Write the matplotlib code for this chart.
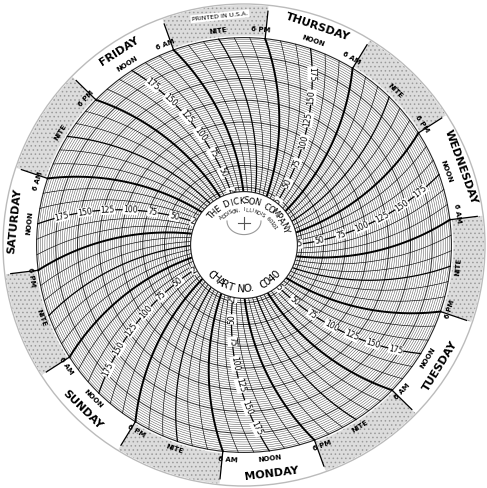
import numpy as np
import matplotlib
matplotlib.use("Agg")
import matplotlib.pyplot as plt
from matplotlib.patches import Circle, Wedge

# chart data
days = ["MONDAY", "TUESDAY", "WEDNESDAY", "THURSDAY", "FRIDAY", "SATURDAY", "SUNDAY"]
time_marks = [6, 12, 18, 24]
time_names = ["6 AM", "NOON", "6 PM", "NITE"]
value_labels = [25, 50, 75, 100, 125, 150, 175]
v_min, v_max = 20, 197

# geometry (pixels)
cx, cy = 244, 245
R_edge = 241
mon_noon = -83.0          # angle of Monday noon, degrees
deg_per_hr = 360.0 / 168
L = 240.0                 # pen arm length

def rad(v):
    return 36 + 0.87 * v

R_out = rad(v_max)
R_in = rad(v_min)

def ang_out(t):
    return mon_noon + (t - 12) * deg_per_hr

def ang(t, r):
    off = np.degrees(np.arccos(r / (2 * L)) - np.arccos(R_out / (2 * L)))
    return ang_out(t) - off

def xy(r, a):
    a = np.radians(a)
    return cx + r * np.cos(a), cy - r * np.sin(a)

def upright(a):
    a = (a + 180) % 360 - 180
    if a > 90: a -= 180
    if a < -90: a += 180
    return a

plt.rcParams["hatch.linewidth"] = 0.6
fig = plt.figure(figsize=(4.87, 4.88), dpi=100)
ax = fig.add_axes([0, 0, 1, 1])
ax.set_xlim(0, 487)
ax.set_ylim(488, 0)
ax.set_aspect("equal")
ax.axis("off")

ax.add_patch(Circle((cx, cy), R_edge, fc="white", ec="#bbbbbb", lw=1.0, zorder=0))

# night shading on outer ring (6 PM -> 6 AM)
for d in range(7):
    a1 = ang_out(24 * d + 18)
    a2 = ang_out(24 * d + 30)
    ax.add_patch(Wedge((cx, cy), R_edge - 1, -a2, -a1, width=R_edge - R_out - 3,
                       fc="#dcdcdc", ec="#9a9a9a", hatch="....", lw=0, zorder=1))
    for t in (24 * d + 6, 24 * d + 18):
        a = ang_out(t)
        x0, y0 = xy(R_out, a)
        x1, y1 = xy(R_edge - 6, a)
        ax.plot([x0, x1], [y0, y1], color="black", lw=0.9, zorder=3)

# concentric circles
for v in np.arange(v_min, v_max + 0.1, 2.5):
    lw = 0.75 if v % 25 == 0 else 0.3
    ax.add_patch(Circle((cx, cy), rad(v), fc="none", ec="#333333", lw=lw, zorder=2))
ax.add_patch(Circle((cx, cy), R_out, fc="none", ec="#222222", lw=0.8, zorder=2))

# curved time lines
rr = np.linspace(R_in, R_out, 60)
for t in range(0, 168, 2):
    h = t % 24
    if h in (6, 18):
        lw = 1.4
    elif h in (0, 12):
        lw = 0.9
    else:
        lw = 0.45
    x, y = xy(rr, ang(t, rr))
    ax.plot(x, y, color="black", lw=lw, zorder=3)

# value labels along each noon line
for d in range(7):
    t = 24 * d + 12
    for v in value_labels:
        r = rad(v) - 4
        x, y = xy(r, ang(t, r))
        x2, y2 = xy(r + 1, ang(t, r + 1))
        rot = np.degrees(np.arctan2(-(y2 - y), x2 - x))
        ax.text(x, y, str(v), fontsize=5.5, rotation=upright(rot), ha="center", va="center",
                rotation_mode="anchor", zorder=4,
                bbox=dict(fc="white", ec="none", pad=0.2))

# time and day labels on outer ring
for d in range(7):
    for h, name in zip(time_marks, time_names):
        a = ang_out(24 * d + h) + (1.5 if h in (6, 18) else 0)
        x, y = xy(R_out + 8, a)
        ax.text(x, y, name, fontsize=5, fontweight="bold", ha="center", va="center",
                rotation=upright(a - 90), rotation_mode="anchor", zorder=5)
    a = ang_out(24 * d + 12)
    x, y = xy(R_out + 23, a)
    ax.text(x, y, days[d], fontsize=8, fontweight="bold", ha="center", va="center",
            rotation=upright(a - 90), rotation_mode="anchor", zorder=5)

x, y = xy(R_edge - 11, 96)
ax.text(x, y, "PRINTED IN U.S.A.", fontsize=4.5, ha="center", va="center",
        rotation=6, rotation_mode="anchor", zorder=5,
        bbox=dict(fc="white", ec="none", pad=1.0))

# center hub
ax.add_patch(Circle((cx, cy), R_in, fc="white", ec="#222222", lw=0.8, zorder=4))

def arc_text(s, r, a_mid, span, size, top=True, weight="normal"):
    n = len(s)
    angs = np.linspace(a_mid + span / 2, a_mid - span / 2, n) if top else \
        np.linspace(a_mid - span / 2, a_mid + span / 2, n)
    for ch, a in zip(s, angs):
        x, y = xy(r, a)
        rot = a - 90 if top else a + 90
        ax.text(x, y, ch, fontsize=size, ha="center", va="center", fontweight=weight,
                rotation=rot, rotation_mode="anchor", zorder=5)

arc_text("THE DICKSON COMPANY", 44, 80, 120, 6)
arc_text("ADDISON, ILLINOIS 60101", 35, 80, 100, 3.5)
arc_text("CHART NO. C040", 44, 270, 95, 7.5, top=False)

ax.plot([cx, cx], [cy - 28, cy - 16], color="#555555", lw=0.8, zorder=5)
ax.plot([cx - 6, cx + 6], [cy - 22, cy - 22], color="#555555", lw=0.8, zorder=5)
th = np.linspace(np.pi, 2 * np.pi, 40)
ax.plot(cx + 17 * np.cos(th), cy - 24 - 17 * np.sin(th) * 0.8, color="#999999", lw=0.8, zorder=5)

fig.savefig("out.png", dpi=100)
